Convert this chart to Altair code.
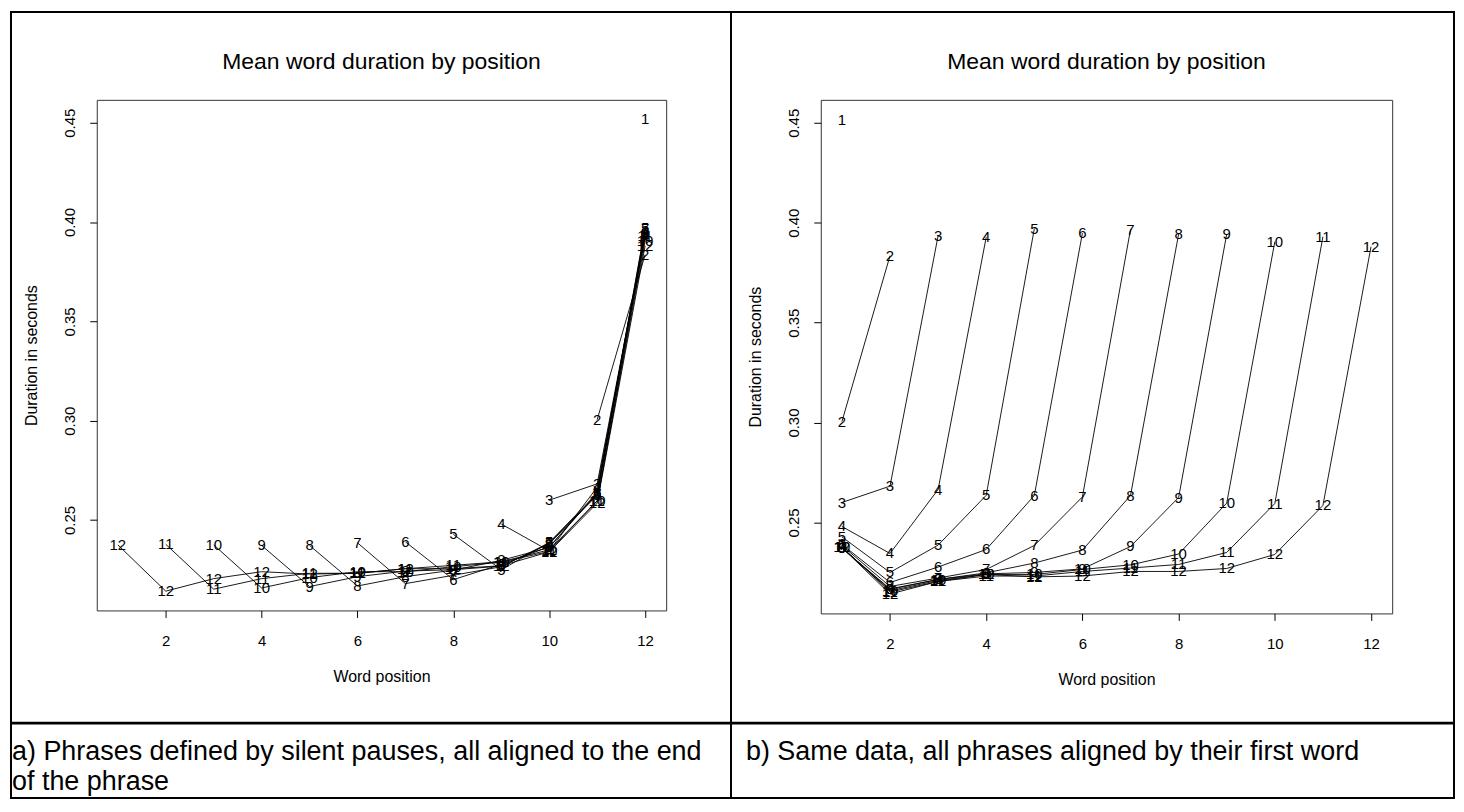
import altair as alt
import pandas as pd

FONT = "Liberation Sans"

# phrase length (number of words) -> mean duration of each word position (s)
phrase_lengths = [1, 2, 3, 4, 5, 6, 7, 8, 9, 10, 11, 12]
dur_len1 = [0.4516]
dur_len2 = [0.3005, 0.3835]
dur_len3 = [0.2600, 0.2682, 0.3935]
dur_len4 = [0.2480, 0.2345, 0.2665, 0.3928]
dur_len5 = [0.2428, 0.2250, 0.2387, 0.2636, 0.3970]
dur_len6 = [0.2390, 0.2200, 0.2277, 0.2365, 0.2635, 0.3948]
dur_len7 = [0.2385, 0.2180, 0.2222, 0.2265, 0.2385, 0.2628, 0.3966]
dur_len8 = [0.2372, 0.2168, 0.2215, 0.2248, 0.2297, 0.2362, 0.2635, 0.3943]
dur_len9 = [0.2372, 0.2165, 0.2215, 0.2243, 0.2250, 0.2268, 0.2380, 0.2625, 0.3943]
dur_len10 = [0.2375, 0.2158, 0.2210, 0.2240, 0.2240, 0.2265, 0.2288, 0.2342, 0.2597, 0.3905]
dur_len11 = [0.2378, 0.2152, 0.2205, 0.2232, 0.2232, 0.2255, 0.2272, 0.2290, 0.2350, 0.2595, 0.3930]
dur_len12 = [0.2375, 0.2142, 0.2205, 0.2240, 0.2228, 0.2232, 0.2255, 0.2255, 0.2270, 0.2340, 0.2585, 0.3880]
series = [dur_len1, dur_len2, dur_len3, dur_len4, dur_len5, dur_len6,
          dur_len7, dur_len8, dur_len9, dur_len10, dur_len11, dur_len12]

x_ticks = [2, 4, 6, 8, 10, 12]
y_ticks = [0.25, 0.30, 0.35, 0.40, 0.45]
plot_title = "Mean word duration by position"
caption_a = ["a) Phrases defined by silent pauses, all aligned to the end", "of the phrase"]
caption_b = ["b) Same data, all phrases aligned by their first word"]

rows = []
for n, vals in zip(phrase_lengths, series):
    for i, v in enumerate(vals, start=1):
        rows.append({"n": n, "pos": i, "x_end": 12 - n + i, "x_start": i, "dur": v})
df = pd.DataFrame(rows)
one = pd.DataFrame({"k": [0]})


def hrule(x1, x2, y, w=2):
    return alt.Chart(one).mark_rule(color="black", strokeWidth=w).encode(
        x=alt.value(x1), x2=alt.value(x2), y=alt.value(y))


def vrule(x, y1, y2, w=2):
    return alt.Chart(one).mark_rule(color="black", strokeWidth=w).encode(
        x=alt.value(x), y=alt.value(y1), y2=alt.value(y2))


def label(text, x, y, size, align="center"):
    return alt.Chart(one).mark_text(font=FONT, fontSize=size, color="black",
                                    align=align, baseline="middle").encode(
        x=alt.value(x), y=alt.value(y), text=alt.value(text))


def panel(xfield, w, h, frame, captions, cap_x):
    xs = alt.Scale(domain=[0.56, 12.44], nice=False, zero=False)
    ys = alt.Scale(domain=[0.2045, 0.4615], nice=False, zero=False)
    xax = alt.Axis(values=x_ticks, title="Word position", labelPadding=16,
                   titlePadding=20, labelAngle=0)
    yax = alt.Axis(values=y_ticks, title="Duration in seconds", format=".2f",
                   labelAngle=270, labelAlign="center", labelBaseline="middle",
                   labelPadding=20, titlePadding=23)
    base = alt.Chart(df)
    lines = base.mark_line(color="black", strokeWidth=0.9).encode(
        x=alt.X(f"{xfield}:Q", scale=xs, axis=xax),
        y=alt.Y("dur:Q", scale=ys, axis=yax),
        detail="n:N", order="pos:Q")
    texts = base.mark_text(font=FONT, fontSize=15, color="black").encode(
        x=alt.X(f"{xfield}:Q"), y=alt.Y("dur:Q"), text="n:N")
    layers = [lines, texts, label(plot_title, w / 2, -38, 23)]
    for k, c in enumerate(captions):
        layers.append(label(c, cap_x, 654 + 30 * k, 27, align="left"))
    layers += frame
    return alt.layer(*layers).properties(width=w, height=h)


# table frame around the two cells (kept inside the visible page)
frame_a = [
    hrule(-87, 636, -88), hrule(-87, 636, 700), hrule(-87, 636, 625, 3),
    vrule(-86, -89, 701), vrule(636, -89, 701),
]
frame_b = [
    hrule(-89, 635, -88), hrule(-89, 635, 700), hrule(-89, 635, 625, 3),
    vrule(635, -89, 701),
]

left = panel("x_end", 571, 512, frame_a, caption_a, -85)
right = panel("x_start", 573, 515, frame_b, caption_b, -75)

chart = alt.hconcat(left, right, spacing=155, bounds="flush").properties(
    padding={"left": 0, "top": 0, "right": 0, "bottom": 0}
).configure_view(stroke="#333333", strokeWidth=1).configure_axis(
    domain=False, grid=False, tickColor="black", tickSize=7, tickWidth=1,
    labelColor="black", titleColor="black", labelFont=FONT, titleFont=FONT,
    labelFontSize=15, titleFontSize=16, titleFontWeight="normal"
)

chart.save("out.html", embed_options={"renderer": "svg", "actions": False})
